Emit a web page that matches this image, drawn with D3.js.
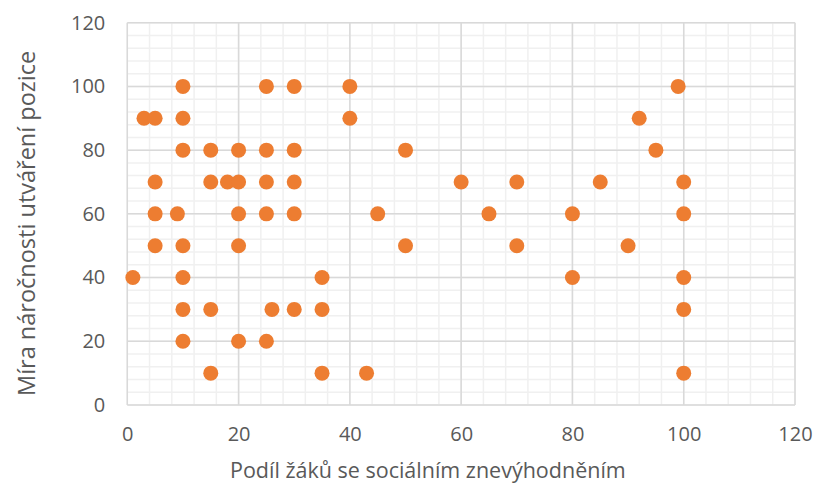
<!DOCTYPE html>
<html>
<head>
<meta charset="utf-8">
<script src="https://cdn.jsdelivr.net/npm/d3@7"></script>
<style>
  body { margin: 0; background: #fff; }
  svg { display: block; }
</style>
</head>
<body>
<div id="main"></div>
<script>
// data
const xValues = [1, 3, 5, 5, 5, 5, 9, 10, 10, 10, 10, 10, 10, 10, 15, 15, 15, 15, 18,
  20, 20, 20, 20, 20, 25, 25, 25, 25, 25, 26, 30, 30, 30, 30, 30, 35, 35, 35,
  40, 40, 43, 45, 50, 50, 60, 65, 70, 70, 80, 80, 85, 90, 92, 95, 99,
  100, 100, 100, 100, 100];
const yValues = [40, 90, 90, 70, 60, 50, 60, 100, 90, 80, 50, 40, 30, 20, 80, 70, 30, 10, 70,
  80, 70, 60, 50, 20, 100, 80, 70, 60, 20, 30, 100, 80, 70, 60, 30, 40, 30, 10,
  100, 90, 10, 60, 80, 50, 70, 60, 70, 50, 60, 40, 70, 50, 90, 80, 100,
  70, 60, 40, 30, 10];
const tickValues = [0, 20, 40, 60, 80, 100, 120];
const xTitle = "Podíl žáků se sociálním znevýhodněním";
const yTitle = "Míra náročnosti utváření pozice";

const W = 813, H = 484;
const box = { left: 127.3, right: 795, top: 22.7, bottom: 405 };

const svg = d3.select("#main").append("svg")
  .attr("width", W)
  .attr("height", H);

const x = d3.scaleLinear().domain([0, 120]).range([box.left, box.right]);
const y = d3.scaleLinear().domain([0, 120]).range([box.bottom, box.top]);

const minorTicks = d3.range(0, 121, 4);

// minor grid
const grid = svg.append("g");
grid.selectAll("line.vminor")
  .data(minorTicks)
  .enter()
  .append("line")
  .attr("x1", d => x(d)).attr("x2", d => x(d))
  .attr("y1", box.top).attr("y2", box.bottom)
  .attr("stroke", "#f0f0f0")
  .attr("stroke-width", 1.5);
grid.selectAll("line.hminor")
  .data(minorTicks)
  .enter()
  .append("line")
  .attr("y1", d => y(d)).attr("y2", d => y(d))
  .attr("x1", box.left).attr("x2", box.right)
  .attr("stroke", "#f0f0f0")
  .attr("stroke-width", 1.5);

// major grid
grid.selectAll("line.vmajor")
  .data(tickValues)
  .enter()
  .append("line")
  .attr("x1", d => x(d)).attr("x2", d => x(d))
  .attr("y1", box.top).attr("y2", box.bottom)
  .attr("stroke", "#d9d9d9")
  .attr("stroke-width", 1.5);
grid.selectAll("line.hmajor")
  .data(tickValues)
  .enter()
  .append("line")
  .attr("y1", d => y(d)).attr("y2", d => y(d))
  .attr("x1", box.left).attr("x2", box.right)
  .attr("stroke", "#d9d9d9")
  .attr("stroke-width", 1.5);

// axes (labels only)
const font = "Open Sans, sans-serif";
const xAxis = svg.append("g")
  .attr("transform", `translate(0, ${box.bottom})`)
  .call(d3.axisBottom(x).tickValues(tickValues).tickSize(0).tickPadding(22));
const yAxis = svg.append("g")
  .attr("transform", `translate(${box.left}, 0)`)
  .call(d3.axisLeft(y).tickValues(tickValues).tickSize(0).tickPadding(22));
[xAxis, yAxis].forEach(a => {
  a.select(".domain").remove();
  a.selectAll("text")
    .attr("fill", "#595959")
    .style("font-family", font)
    .style("font-size", "20px");
});

// points
svg.append("g")
  .selectAll("circle")
  .data(xValues.map((v, i) => [v, yValues[i]]))
  .enter()
  .append("circle")
  .attr("cx", d => x(d[0]))
  .attr("cy", d => y(d[1]))
  .attr("r", 7.5)
  .attr("fill", "#ed7d31");

// titles
svg.append("text")
  .attr("x", 230)
  .attr("y", 478)
  .attr("fill", "#595959")
  .style("font-family", font)
  .style("font-size", "21.5px")
  .text(xTitle);

svg.append("text")
  .attr("transform", "translate(35, 396) rotate(-90)")
  .attr("fill", "#595959")
  .style("font-family", font)
  .style("font-size", "23.5px")
  .text(yTitle);
</script>
</body>
</html>
